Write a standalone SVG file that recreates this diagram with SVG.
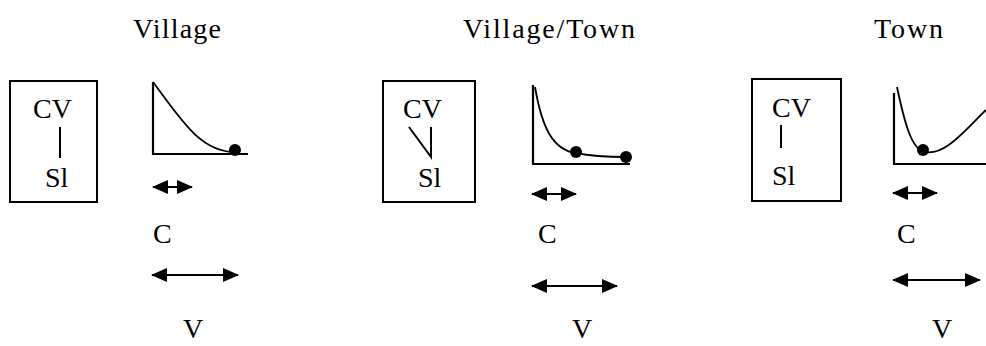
<svg xmlns="http://www.w3.org/2000/svg" width="986" height="346" viewBox="0 0 986 346">
<style>
.t{font-family:'Liberation Serif','Times New Roman',serif;font-size:28px;fill:#000}
.box{fill:none;stroke:#000;stroke-width:2}
.ln{fill:none;stroke:#000;stroke-width:2}
.ax{fill:none;stroke:#000;stroke-width:2.2}
.cv{fill:none;stroke:#000;stroke-width:1.8}
.arr{fill:none;stroke:#000;stroke-width:2;marker-start:url(#ah);marker-end:url(#ah)}
.dot{fill:#000}
</style>
<defs>
<marker id="ah" markerUnits="userSpaceOnUse" markerWidth="16" markerHeight="14" viewBox="0 0 16 14" refX="15" refY="7" orient="auto-start-reverse">
<path d="M0,0 L16,7 L0,14 z" fill="#000"/>
</marker>
</defs>
<rect width="986" height="346" fill="#fff"/>

<g id="titles">
<text class="t" x="133" y="38" textLength="88" lengthAdjust="spacing">Village</text>
<text class="t" x="463" y="38" textLength="172" lengthAdjust="spacing">Village/Town</text>
<text class="t" x="874" y="38" textLength="69" lengthAdjust="spacing">Town</text>
</g>

<g id="box-village">
<rect class="box" x="10" y="81" width="87" height="121"/>
<text class="t" x="33" y="118">CV</text>
<line class="ln" x1="60" y1="127" x2="60" y2="158"/>
<text class="t" x="45" y="187">Sl</text>
</g>

<g id="graph-village">
<path class="ax" d="M153,82 V154 H248"/>
<path class="cv" d="M153,82 C180,118 200,152 235,152"/>
<circle class="dot" cx="235" cy="150" r="6"/>
</g>

<g id="box-villagetown">
<rect class="box" x="383" y="81" width="92" height="121"/>
<text class="t" x="403" y="118">CV</text>
<path class="ln" d="M409,127 L431,157 V127"/>
<text class="t" x="418" y="187">Sl</text>
</g>

<g id="graph-villagetown">
<path class="ax" d="M533,85 V164 H630"/>
<path class="cv" d="M535,87 C542,128 553,150 576,153 C595,157 612,157 626,157"/>
<circle class="dot" cx="576" cy="152" r="6"/>
<circle class="dot" cx="626" cy="157" r="6"/>
</g>

<g id="box-town">
<rect class="box" x="752" y="79" width="89" height="122"/>
<text class="t" x="772" y="117">CV</text>
<line class="ln" x1="781" y1="125" x2="781" y2="148"/>
<text class="t" x="772" y="185">Sl</text>
</g>

<g id="graph-town">
<path class="ax" d="M894,93 V164 H986"/>
<path class="cv" d="M897,87 C905,125 912,150 925,152 C945,156 965,130 986,110"/>
<circle class="dot" cx="923" cy="150" r="6"/>
</g>

<g id="arrows">
<line class="arr" x1="153" y1="187" x2="192" y2="187"/>
<line class="arr" x1="152" y1="275" x2="238" y2="275"/>
<line class="arr" x1="532" y1="194" x2="576" y2="194"/>
<line class="arr" x1="532" y1="286" x2="617" y2="286"/>
<line class="arr" x1="893" y1="193" x2="937" y2="193"/>
<line class="arr" x1="893" y1="280" x2="980" y2="280"/>
</g>

<g id="labels">
<text class="t" x="153" y="243">C</text>
<text class="t" x="183" y="338">V</text>
<text class="t" x="538" y="243">C</text>
<text class="t" x="572" y="338">V</text>
<text class="t" x="897" y="243">C</text>
<text class="t" x="932" y="338">V</text>
</g>
</svg>
